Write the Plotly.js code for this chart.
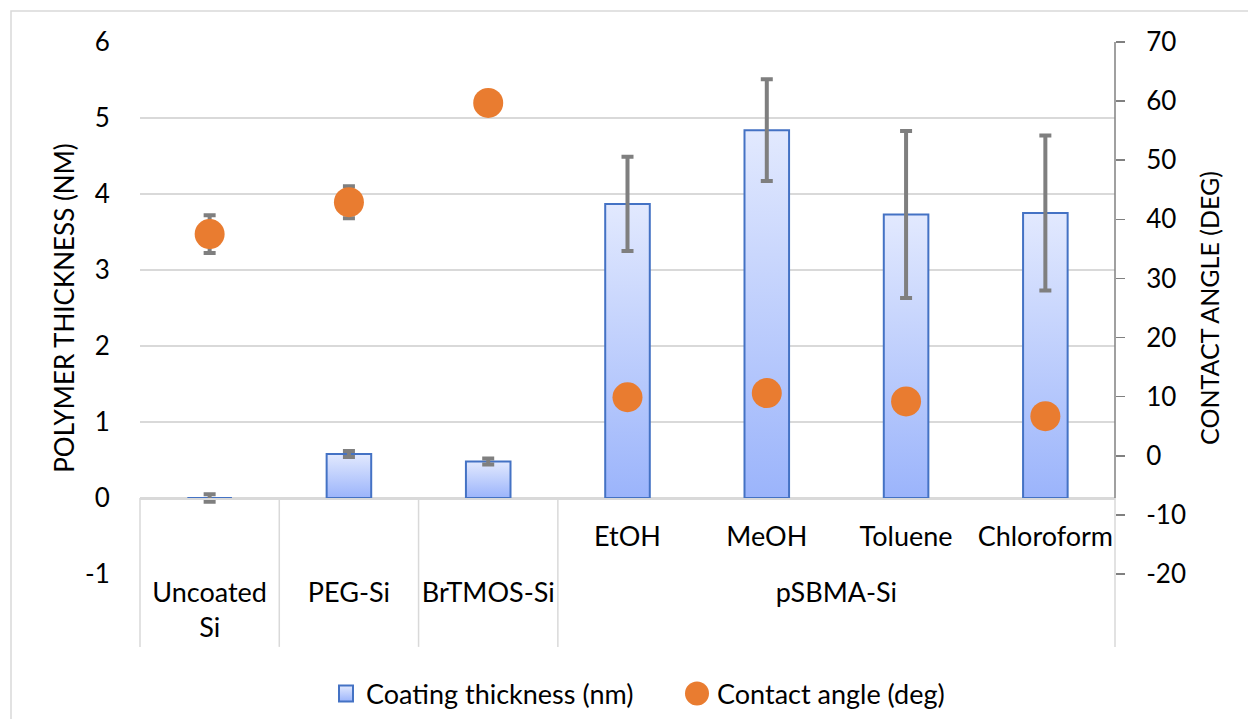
<!DOCTYPE html>
<html>
<head>
<meta charset="utf-8">
<script src="https://cdn.plot.ly/plotly-3.0.1.min.js"></script>
<style>
  html, body { margin: 0; padding: 0; background: #fff; }
  #chart { width: 1248px; height: 719px; }
</style>
</head>
<body>
<div id="chart"></div>
<script>
// ---- data ----
const groups = ['Uncoated<br>Si', 'PEG-Si', 'BrTMOS-Si', 'pSBMA-Si', 'pSBMA-Si', 'pSBMA-Si', 'pSBMA-Si'];
const solvents = ['<span style="font-size:57px;color:rgba(255,255,255,0)">|</span>', ' ', ' ', 'EtOH', 'MeOH', 'Toluene', 'Chloroform'];
const thickness = [0, 0.58, 0.48, 3.87, 4.84, 3.73, 3.75];
const thicknessErr = [0.05, 0.04, 0.04, 0.62, 0.67, 1.10, 1.02];
const contactAngle = [37.5, 42.9, 59.7, 9.9, 10.6, 9.2, 6.7];
const contactAngleErr = [3.2, 2.7, 1.0, 0.8, 0.8, 0.8, 0.8];
const leftTicks = [-1, 0, 1, 2, 3, 4, 5, 6];
const rightTicks = [-20, -10, 0, 10, 20, 30, 40, 50, 60, 70];

const FONT = 'Lato, Carlito, Calibri, "Open Sans", sans-serif';
const GRID = '#d9d9d9';

const traceBars = {
  type: 'bar',
  name: 'Coating thickness (nm)',
  x: [groups, solvents],
  y: thickness,
  width: 0.32,
  marker: { color: '#bccdfb', line: { color: '#4472C4', width: 2 } },
  error_y: { type: 'data', array: thicknessErr, visible: true, color: '#7f7f7f', thickness: 4, width: 6 },
  yaxis: 'y'
};

const traceAngle = {
  type: 'scatter',
  mode: 'markers',
  name: 'Contact angle (deg)',
  x: [groups, solvents],
  y: contactAngle,
  marker: { color: '#E97C30', size: 30, line: { width: 0 } },
  error_y: { type: 'data', array: contactAngleErr, visible: true, color: '#7f7f7f', thickness: 4, width: 6 },
  yaxis: 'y2'
};

const zeroPaper = (0 - (-1)) / 7;
const dividerBottom = -0.137;
const shapes = [];
[0, 1, 2, 3, 7].forEach(k => {
  shapes.push({
    type: 'line', xref: 'paper', yref: 'paper',
    x0: k / 7, x1: k / 7, y0: zeroPaper, y1: dividerBottom,
    line: { color: GRID, width: 1.5 }, layer: 'below'
  });
});
shapes.push({
  type: 'line', xref: 'paper', yref: 'y',
  x0: 1, x1: 1, y0: 0, y1: 6,
  line: { color: '#808080', width: 1.5 }
});
shapes.push({
  type: 'rect', xref: 'paper', yref: 'paper',
  x0: (11 - 140) / 975, x1: (1300 - 140) / 975,
  y0: (574 - 11) / 532, y1: (574 - 760) / 532,
  line: { color: GRID, width: 1.5 }, fillcolor: 'rgba(0,0,0,0)'
});

const layout = {
  width: 1248, height: 719,
  margin: { l: 140, r: 133, t: 42, b: 145 },
  paper_bgcolor: '#ffffff', plot_bgcolor: '#ffffff',
  font: { family: FONT, color: '#000', size: 26 },
  showlegend: true,
  legend: {
    orientation: 'h', x: (326 - 140) / 975, xanchor: 'left',
    yref: 'container', y: (719 - 694) / 719, yanchor: 'middle',
    font: { family: FONT, size: 27, color: '#000' }, bgcolor: 'rgba(0,0,0,0)',
    itemwidth: 30, entrywidth: 306, entrywidthmode: 'pixels'
  },
  xaxis: {
    type: 'multicategory', automargin: false,
    anchor: 'free', position: zeroPaper,
    range: [-0.5, 6.5],
    showline: true, linecolor: GRID, linewidth: 1.5,
    showdividers: false,
    ticks: '', ticklabelstandoff: 14,
    showgrid: false, zeroline: false,
    tickfont: { family: FONT, size: 27, color: '#000' }
  },
  yaxis: {
    automargin: false,
    range: [-1, 6], tickvals: leftTicks, ticktext: leftTicks.map(String),
    showgrid: true, gridcolor: GRID, gridwidth: 1.5,
    zeroline: false, showline: false,
    ticks: 'outside', ticklen: 24, tickcolor: 'rgba(0,0,0,0)',
    tickfont: { family: FONT, size: 26, color: '#000' },
    title: { text: 'POLYMER THICKNESS (NM)', font: { family: FONT, size: 26, color: '#000' }, standoff: 2 }
  },
  yaxis2: {
    automargin: false,
    overlaying: 'y', side: 'right',
    range: [-20, 70], tickvals: rightTicks, ticktext: rightTicks.map(String),
    showgrid: false, zeroline: false, showline: false,
    ticks: 'outside', ticklen: 9, tickcolor: '#808080', tickwidth: 1.5,
    ticklabelstandoff: 16,
    tickfont: { family: FONT, size: 26, color: '#000' },
    title: { text: 'CONTACT ANGLE (DEG)', font: { family: FONT, size: 25, color: '#000' }, standoff: 16 }
  },
  shapes: shapes
};

function postStyle() {
  const svg = document.querySelector('#chart .main-svg');
  if (!svg) return;
  const NS = 'http://www.w3.org/2000/svg';
  let defs = svg.querySelector('defs');
  if (!defs) { defs = document.createElementNS(NS, 'defs'); svg.insertBefore(defs, svg.firstChild); }
  if (!svg.querySelector('#barGrad')) {
    const g = document.createElementNS(NS, 'linearGradient');
    g.setAttribute('id', 'barGrad');
    g.setAttribute('x1', '0'); g.setAttribute('y1', '0');
    g.setAttribute('x2', '0'); g.setAttribute('y2', '1');
    [['0', '#e2e9fe'], ['1', '#9bb4fb']].forEach(([o, c]) => {
      const s = document.createElementNS(NS, 'stop');
      s.setAttribute('offset', o); s.setAttribute('stop-color', c);
      g.appendChild(s);
    });
    defs.appendChild(g);
  }
  document.querySelectorAll('#chart .bars .point path').forEach(p => { p.style.fill = 'url(#barGrad)'; });
  document.querySelectorAll('#chart .legend .legendpoints path').forEach(p => {
    const d = p.getAttribute('d') || '';
    if (d.indexOf('H') >= 0 && d.indexOf('A') < 0) {
      p.setAttribute('d', 'M7,8H-7V-8H7Z');
      p.style.fill = 'url(#barGrad)';
    } else if (d.indexOf('A') >= 0) {
      p.setAttribute('d', 'M12,0A12,12 0 1,1 0,-12A12,12 0 0,1 12,0Z');
    }
  });
}

Plotly.newPlot('chart', [traceBars, traceAngle], layout, { staticPlot: true }).then(postStyle);
</script>
</body>
</html>
